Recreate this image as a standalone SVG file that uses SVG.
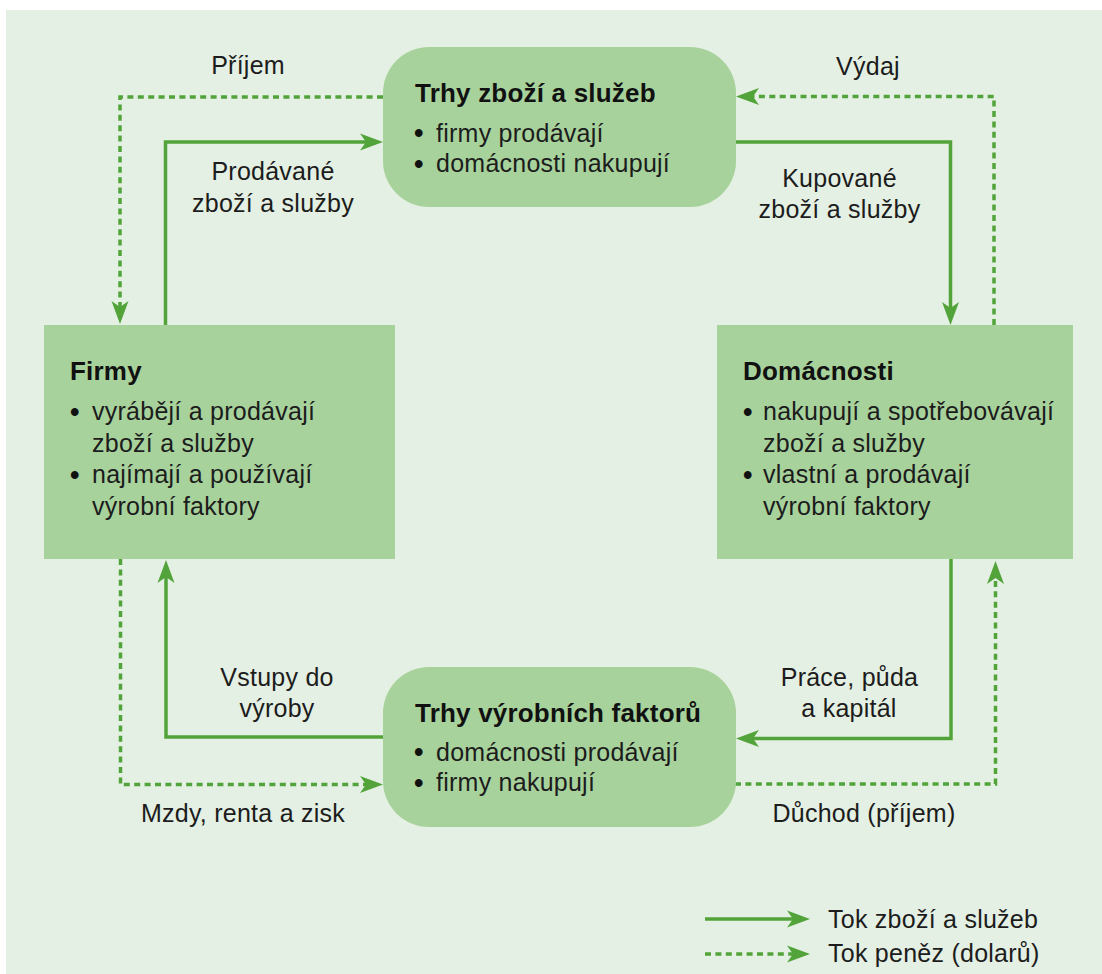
<svg xmlns="http://www.w3.org/2000/svg" width="1102" height="974" viewBox="0 0 1102 974">
<style>
text{font-family:"Liberation Sans",Arial,Helvetica,sans-serif;font-size:25px;fill:#1c1c1c;letter-spacing:0.25px}
.t{font-weight:bold;font-size:26px;fill:#111;letter-spacing:0.2px}
.b{font-size:27px;fill:#111;letter-spacing:0;font-weight:bold}
.lbl{text-anchor:middle}
.box{fill:#a8d29c}
.solid,.dot{fill:none;stroke:#52a43a;stroke-width:3.5}
.dot{stroke-dasharray:6 4.4}
</style>
<defs>
<marker id="ah" markerUnits="userSpaceOnUse" markerWidth="24" markerHeight="18" refX="11" refY="9" orient="auto" viewBox="0 0 24 18"><path d="M0,0.5 L23,9 L0,17.5 L6,9 Z" fill="#52a43a"/></marker>
</defs>
<rect x="0" y="0" width="1102" height="974" fill="#ffffff"/>
<rect x="6" y="10" width="1096" height="964" fill="#e4f0e3"/>

<g id="connectors">
<path class="dot" d="M383,97 H120 V312" marker-end="url(#ah)"/>
<path class="solid" d="M165.5,325 V142 H371" marker-end="url(#ah)"/>
<path class="solid" d="M735,142 H950.5 V313" marker-end="url(#ah)"/>
<path class="dot" d="M994,325 V96.5 H748" marker-end="url(#ah)"/>
<path class="solid" d="M951,559 V738.5 H748" marker-end="url(#ah)"/>
<path class="dot" d="M735,784 H995.5 V573" marker-end="url(#ah)"/>
<path class="solid" d="M383,737 H166 V572" marker-end="url(#ah)"/>
<path class="dot" d="M120.5,559 V784.5 H371" marker-end="url(#ah)"/>
<text class="lbl" x="248" y="74">Příjem</text>
<text class="lbl" x="273" y="180">Prodávané</text>
<text class="lbl" x="273" y="212">zboží a služby</text>
<text class="lbl" x="868" y="75">Výdaj</text>
<text class="lbl" x="839.5" y="187">Kupované</text>
<text class="lbl" x="839.5" y="218">zboží a služby</text>
<text class="lbl" x="849.5" y="686">Práce, půda</text>
<text class="lbl" x="849" y="717">a kapitál</text>
<text class="lbl" x="864" y="822">Důchod (příjem)</text>
<text class="lbl" x="277" y="686">Vstupy do</text>
<text class="lbl" x="277" y="717">výroby</text>
<text class="lbl" x="243" y="822">Mzdy, renta a zisk</text>
</g>

<g id="trhy-zbozi">
<rect class="box" x="383" y="47" width="353" height="160" rx="46"/>
<text class="t" x="415" y="102">Trhy zboží a služeb</text>
<text class="b" x="414" y="142">•</text><text x="436" y="141.5">firmy prodávají</text>
<text class="b" x="414" y="172.5">•</text><text x="436" y="172">domácnosti nakupují</text>
</g>

<g id="firmy">
<rect class="box" x="44" y="325" width="351" height="234"/>
<text class="t" x="70" y="380">Firmy</text>
<text class="b" x="70" y="420.5">•</text><text x="92" y="420">vyrábějí a prodávají</text>
<text x="92" y="451.5">zboží a služby</text>
<text class="b" x="70" y="483.5">•</text><text x="92" y="483">najímají a používají</text>
<text x="92" y="514.5">výrobní faktory</text>
</g>

<g id="domacnosti">
<rect class="box" x="717" y="325" width="356" height="234"/>
<text class="t" x="743" y="380">Domácnosti</text>
<text class="b" x="743" y="420.5">•</text><text x="763" y="420">nakupují a spotřebovávají</text>
<text x="763" y="451.5">zboží a služby</text>
<text class="b" x="743" y="483.5">•</text><text x="763" y="483">vlastní a prodávají</text>
<text x="763" y="514.5">výrobní faktory</text>
</g>

<g id="trhy-faktoru">
<rect class="box" x="383" y="667" width="353" height="160" rx="46"/>
<text class="t" x="415" y="721.5">Trhy výrobních faktorů</text>
<text class="b" x="414" y="761">•</text><text x="436" y="760.5">domácnosti prodávají</text>
<text class="b" x="414" y="791.5">•</text><text x="436" y="791">firmy nakupují</text>
</g>

<g id="legend">
<path class="solid" d="M705,919 H798" marker-end="url(#ah)"/>
<path class="dot" d="M705,954 H798" marker-end="url(#ah)"/>
<text x="828" y="927.5">Tok zboží a služeb</text>
<text x="828" y="961.5">Tok peněz (dolarů)</text>
</g>
</svg>
